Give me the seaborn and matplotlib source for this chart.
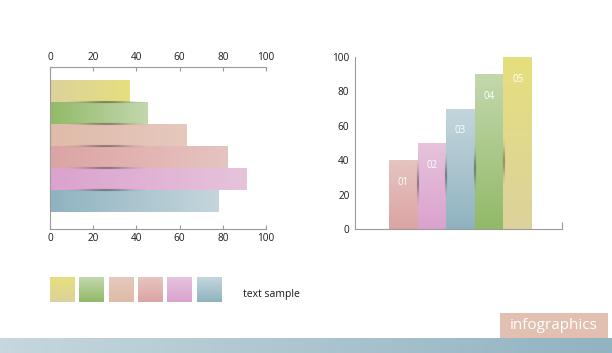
import numpy as np
import seaborn as sns
import matplotlib.pyplot as plt
from matplotlib.colors import to_rgb

# horizontal bars, top to bottom
h_names = ["yellow", "green", "peach", "red", "pink", "blue"]
h_values = [37, 45, 63, 82, 91, 78]
x_ticks = [0, 20, 40, 60, 80, 100]

# vertical bars, left to right
v_labels = ["01", "02", "03", "04", "05"]
v_values = [40, 50, 70, 90, 100]
v_colors = ["red", "pink", "blue", "green", "yellow"]
y_ticks = [0, 20, 40, 60, 80, 100]

legend_colors = ["yellow", "green", "peach", "red", "pink", "blue"]
legend_text = "text sample"
badge_text = "infographics"

# (left/bottom shade, right/top shade) for each swatch
shades = {
    "yellow": ("#dcd29c", "#e6df7e"),
    "green": ("#92ba68", "#c3d7ad"),
    "peach": ("#dfbba9", "#e6c8bd"),
    "red": ("#dba4a4", "#e6c4c0"),
    "pink": ("#dba2cf", "#e6c3db"),
    "blue": ("#90b3c1", "#c4d6dc"),
}

AXIS = "#9a9a9a"
plt.rcParams["font.family"] = ["Open Sans", "DejaVu Sans"]


def gradient(ax, patch, c0, c1, vertical=False, n=64):
    x0, y0 = patch.get_x(), patch.get_y()
    x1, y1 = x0 + patch.get_width(), y0 + patch.get_height()
    t = np.linspace(0, 1, n)[:, None]
    a, b = np.array(to_rgb(c0)), np.array(to_rgb(c1))
    cols = a + (b - a) * t
    img = cols[:, None, :] if vertical else cols[None, :, :]
    im = ax.imshow(img, extent=(x0, x1, min(y0, y1), max(y0, y1)), origin="lower",
                   aspect="auto", interpolation="bilinear", zorder=2.1)
    im.set_clip_path(patch)


def shadow(ax, color, xr, yr, vertical=False, n=60):
    # thin tapered dark streak where two bars meet
    c = np.array(to_rgb(color)) * 0.35
    u = np.linspace(-1, 1, n)
    along = np.exp(-(u * 1.7) ** 2)
    across = np.exp(-(u * 2.8) ** 2)
    if vertical:
        alpha = along[:, None] * across[None, :]
    else:
        alpha = across[:, None] * along[None, :]
    img = np.zeros((n, n, 4))
    img[..., :3] = c
    img[..., 3] = alpha * 0.85
    ax.imshow(img, extent=(xr[0], xr[1], yr[0], yr[1]), origin="lower",
              aspect="auto", interpolation="bilinear", zorder=3)


fig = plt.figure(figsize=(6.12, 3.53), dpi=100)
W, H = 612, 353


def px_axes(x0, y0, x1, y1):
    return fig.add_axes([x0 / W, 1 - y1 / H, (x1 - x0) / W, (y1 - y0) / H])


# ---- left: horizontal bars ----
ax1 = px_axes(50, 67, 266, 229)
pal = {k: shades[k][0] for k in h_names}
sns.barplot(x=h_values, y=h_names, hue=h_names, palette=pal, orient="h",
            width=1, saturation=1, legend=False, linewidth=0, ax=ax1)
for p, name in zip(ax1.patches, h_names):
    gradient(ax1, p, *shades[name])
for i in range(1, len(h_names)):
    shadow(ax1, shades[h_names[i]][0], (8, 44), (i - 0.5 - 0.07, i - 0.5 + 0.07))
ax1.set_xlim(0, 100)
ax1.set_ylim(6.27, -1.1)
ax1.set_xticks(x_ticks)
ax1.set_yticks([])
ax1.set_ylabel("")
ax1.tick_params(axis="x", top=True, labeltop=True, bottom=True, labelbottom=True,
                direction="in", length=3, width=0.8, color=AXIS, labelsize=7.2,
                pad=3, labelcolor="#1a1a1a")
for s in ["left", "top", "bottom"]:
    ax1.spines[s].set_color(AXIS)
    ax1.spines[s].set_linewidth(0.8)
ax1.spines["right"].set_visible(False)
ax1.set_facecolor("none")

# ---- right: vertical bars ----
ax2 = px_axes(355, 57, 562, 229)
pal2 = {k: shades[c][0] for k, c in zip(v_labels, v_colors)}
sns.barplot(x=v_labels, y=v_values, hue=v_labels, palette=pal2, width=1,
            saturation=1, legend=False, linewidth=0, ax=ax2)
for p, c in zip(ax2.patches, v_colors):
    gradient(ax2, p, *shades[c], vertical=True)
for i in range(1, len(v_labels)):
    shadow(ax2, shades[v_colors[i]][0], (i - 0.5 - 0.06, i - 0.5 + 0.06),
           (10 + 4 * i, 36 + 4 * i), vertical=True)
for i, (lab, v) in enumerate(zip(v_labels, v_values)):
    ax2.text(i, v - 13, lab, ha="center", va="center", color="white", fontsize=7, zorder=4)
ax2.set_xlim(-1.69, 5.55)
ax2.set_ylim(0, 100)
ax2.set_yticks(y_ticks)
ax2.set_xticks([5.55])
ax2.set_xticklabels([""])
ax2.set_xlabel("")
ax2.tick_params(axis="y", length=0, labelsize=7.2, pad=4, labelcolor="#1a1a1a")
ax2.tick_params(axis="x", direction="in", length=5, width=0.8, color=AXIS)
for s in ["left", "bottom"]:
    ax2.spines[s].set_color(AXIS)
    ax2.spines[s].set_linewidth(0.8)
for s in ["top", "right"]:
    ax2.spines[s].set_visible(False)
ax2.set_facecolor("none")

# ---- colour key ----
ax3 = px_axes(50, 277, 221, 302)
key = ax3.bar(range(len(legend_colors)), [1] * len(legend_colors), width=24 / 29,
              color=[shades[c][0] for c in legend_colors], linewidth=0)
for p, c in zip(key.patches, legend_colors):
    gradient(ax3, p, *shades[c], vertical=True)
ax3.set_xlim(-12 / 29, len(legend_colors) - 1 + 12 / 29)
ax3.set_ylim(0, 1)
ax3.axis("off")
fig.text(243 / W, 1 - 294 / H, legend_text, ha="left", va="center", fontsize=7.5,
         color="#1a1a1a")

# ---- footer band and badge ----
band = px_axes(0, 338, 612, 353)
t = np.linspace(0, 1, 200)[:, None]
a, b = np.array(to_rgb("#c6d7de")), np.array(to_rgb("#92b3c1"))
band.imshow((a + (b - a) * t)[None, :, :], aspect="auto", extent=(0, 1, 0, 1))
band.axis("off")

badge = px_axes(500, 313, 608, 338)
badge.set_facecolor("#e1c0b1")
badge.set_xticks([])
badge.set_yticks([])
for s in badge.spines.values():
    s.set_visible(False)
badge.text(0.5, 0.5, badge_text, ha="center", va="center", color="white",
           fontsize=11, transform=badge.transAxes)

fig.savefig("out.png", dpi=100)
